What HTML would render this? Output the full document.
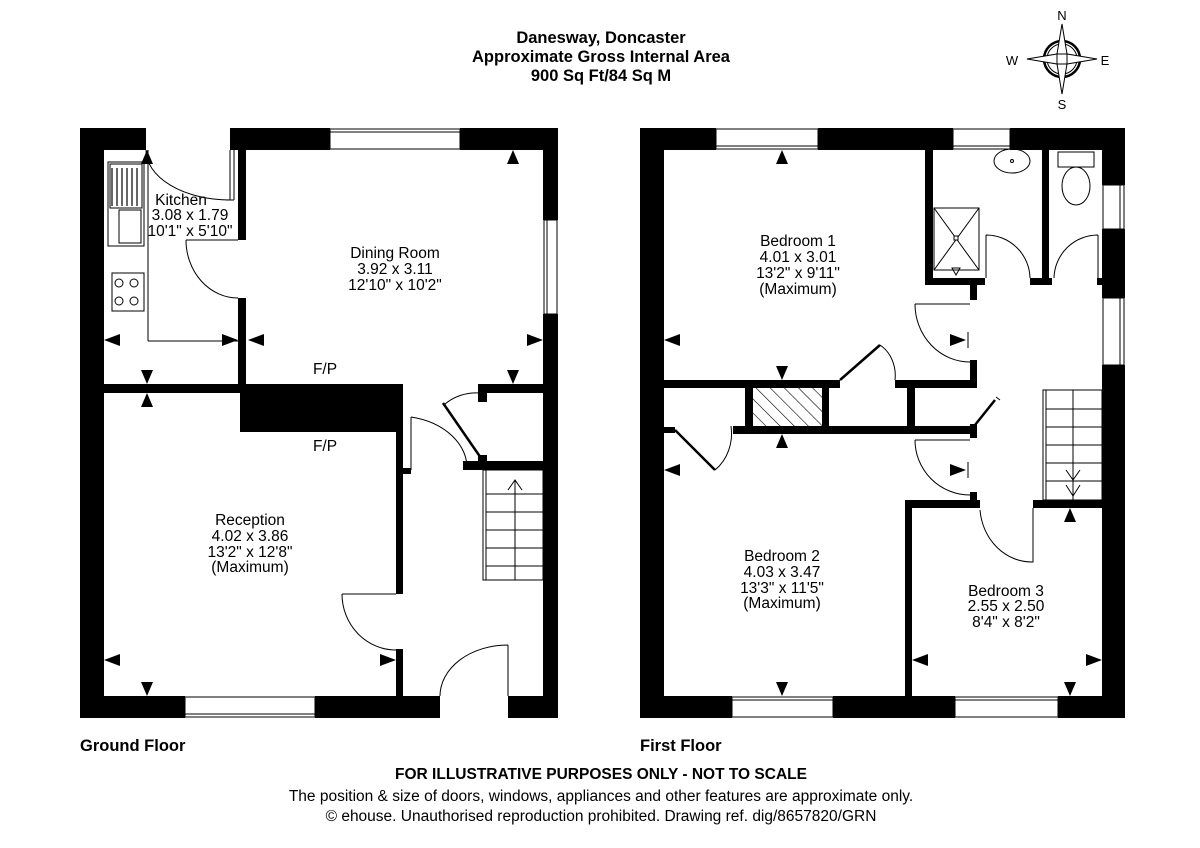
<!DOCTYPE html>
<html><head><meta charset="utf-8"><style>
html,body{margin:0;padding:0;background:#fff;}
svg{display:block;font-family:"Liberation Sans",Arial,sans-serif;}
</style></head><body>
<svg width="1200" height="848" viewBox="0 0 1200 848" xmlns="http://www.w3.org/2000/svg">
<defs>
<pattern id="hat" width="10" height="10" patternUnits="userSpaceOnUse" patternTransform="rotate(-45)">
<rect width="10" height="10" fill="#fff"/><line x1="0" y1="0" x2="0" y2="10" stroke="#000" stroke-width="1.2"/></pattern>
</defs>
<!-- header -->
<g text-anchor="middle" font-weight="bold" font-size="16.5" fill="#000">
<text x="601" y="43">Danesway, Doncaster</text>
<text x="601" y="62">Approximate Gross Internal Area</text>
<text x="601" y="81">900 Sq Ft/84 Sq M</text>
</g>
<!-- compass -->
<g stroke="#000" fill="none">
<circle cx="1062" cy="59" r="18" stroke-width="2.5"/>
<circle cx="1062" cy="59" r="15" fill="#fff" stroke-width="1"/>
<polygon points="1062,24 1067,54 1057,54" fill="#fff"/>
<polygon points="1062,94 1067,64 1057,64" fill="#fff"/>
<polygon points="1027,59 1057,54 1057,64" fill="#fff"/>
<polygon points="1097,59 1067,54 1067,64" fill="#fff"/>
</g>
<g font-size="13" text-anchor="middle" fill="#000">
<text x="1062" y="20">N</text><text x="1062" y="109">S</text>
<text x="1012" y="65">W</text><text x="1105" y="65">E</text>
</g>

<!-- ============ GROUND FLOOR ============ -->
<g fill="#000">
<rect x="80" y="128" width="24" height="590"/>
<rect x="80" y="128" width="66" height="22"/>
<rect x="230" y="128" width="100" height="22"/>
<rect x="460" y="128" width="98" height="22"/>
<rect x="543" y="128" width="15" height="92"/>
<rect x="543" y="314" width="15" height="404"/>
<rect x="80" y="696" width="105" height="22"/>
<rect x="315" y="696" width="125" height="22"/>
<rect x="508" y="696" width="50" height="22"/>
<rect x="238" y="150" width="8" height="90"/>
<rect x="238" y="298" width="8" height="95"/>
<rect x="104" y="384" width="140" height="9"/>
<rect x="240" y="384" width="163" height="48"/>
<rect x="396" y="430" width="7" height="164"/>
<rect x="403" y="468" width="8" height="6"/>
<rect x="396" y="649" width="7" height="47"/>
<rect x="478" y="384" width="65" height="9"/>
<rect x="478" y="384" width="9" height="18"/>
<rect x="463" y="461" width="80" height="9"/>
<rect x="478" y="455" width="9" height="15"/>
</g>
<g stroke="#000" fill="none" stroke-width="1">
<line x1="230" y1="150" x2="230" y2="200"/>
<line x1="234" y1="150" x2="234" y2="200"/>
<line x1="226" y1="200" x2="234" y2="200"/>
<path d="M146 150 A84 50 0 0 0 230 200"/>
<path d="M186 240 L238 240 M186 240 A52 58 0 0 0 238 298"/>
<rect x="330" y="129" width="130" height="20"/><line x1="330" y1="132" x2="460" y2="132"/>
<rect x="544" y="220" width="13" height="94"/><line x1="547" y1="220" x2="547" y2="314"/>
<rect x="185" y="697" width="130" height="20"/><line x1="185" y1="714" x2="315" y2="714"/>
<line x1="148" y1="150" x2="148" y2="341"/><line x1="148" y1="341" x2="238" y2="341"/>
<rect x="108" y="162" width="36" height="84"/>
<rect x="110" y="164" width="32" height="44"/>
<rect x="119" y="210" width="22" height="33"/>
<rect x="112" y="273" width="32" height="38"/>
<circle cx="119" cy="283" r="4"/><circle cx="134" cy="283" r="4"/>
<circle cx="119" cy="301" r="4"/><circle cx="134" cy="301" r="4"/>
<path d="M342 594 L396 594 M342 594 A54 56 0 0 0 396 650"/>
<path d="M411 417 L411 470 M411 417 A70 52 0 0 1 467 470"/>
<path d="M444 405 A45 40 0 0 1 480 393"/>
<path d="M508 645 L508 696 M508 645 A68 51 0 0 0 440 696"/>
<rect x="483" y="470" width="60" height="110"/>
<line x1="486" y1="470" x2="486" y2="580"/>
<line x1="515" y1="480" x2="515" y2="580"/>
<line x1="486" y1="494" x2="543" y2="494"/><line x1="486" y1="512" x2="543" y2="512"/>
<line x1="486" y1="530" x2="543" y2="530"/><line x1="486" y1="548" x2="543" y2="548"/>
<line x1="486" y1="566" x2="543" y2="566"/>
<path d="M508 490 L515 480 L522 490"/>
</g>
<line x1="443" y1="403" x2="483" y2="461" stroke="#000" stroke-width="2.5"/>
<g stroke="#000" stroke-width="1.2">
<line x1="112" y1="168" x2="112" y2="206"/><line x1="117" y1="168" x2="117" y2="206"/><line x1="122" y1="168" x2="122" y2="206"/>
<line x1="127" y1="168" x2="127" y2="206"/><line x1="132" y1="168" x2="132" y2="206"/><line x1="137" y1="168" x2="137" y2="206"/>
</g>
<g fill="#000">
<polygon points="104,340 120,334 120,346"/>
<polygon points="238,340 222,334 222,346"/>
<polygon points="248,340 264,334 264,346"/>
<polygon points="543,340 527,334 527,346"/>
<polygon points="147,150 141,164 153,164"/>
<polygon points="513,150 507,164 519,164"/>
<polygon points="147,384 141,370 153,370"/>
<polygon points="513,384 507,370 519,370"/>
<polygon points="147,393 141,407 153,407"/>
<polygon points="104,660 120,654 120,666"/>
<polygon points="396,660 380,654 380,666"/>
<polygon points="147,696 141,682 153,682"/>
</g>
<g font-size="15.5" text-anchor="middle" fill="#000">
<text x="181" y="205">Kitchen</text>
<text x="190" y="220">3.08 x 1.79</text>
<text x="190" y="236">10'1" x 5'10"</text>
<text x="395" y="258">Dining Room</text>
<text x="395" y="274">3.92 x 3.11</text>
<text x="395" y="290">12'10" x 10'2"</text>
<text x="325" y="374">F/P</text>
<text x="325" y="451">F/P</text>
<text x="250" y="525">Reception</text>
<text x="250" y="541">4.02 x 3.86</text>
<text x="250" y="557">13'2" x 12'8"</text>
<text x="250" y="572">(Maximum)</text>
</g>

<!-- ============ FIRST FLOOR ============ -->
<g fill="#000">
<rect x="640" y="128" width="24" height="590"/>
<rect x="640" y="128" width="76" height="22"/>
<rect x="818" y="128" width="135" height="22"/>
<rect x="1010" y="128" width="115" height="22"/>
<rect x="1102" y="128" width="23" height="57"/>
<rect x="1102" y="229" width="23" height="69"/>
<rect x="1102" y="365" width="23" height="353"/>
<rect x="640" y="696" width="92" height="22"/>
<rect x="833" y="696" width="122" height="22"/>
<rect x="1058" y="696" width="67" height="22"/>
<rect x="925" y="150" width="8" height="135"/>
<rect x="925" y="278" width="60" height="7"/>
<rect x="1030" y="278" width="22" height="7"/>
<rect x="1042" y="150" width="7" height="135"/>
<rect x="1097" y="278" width="5" height="7"/>
<rect x="970" y="283" width="7" height="17"/>
<rect x="970" y="360" width="7" height="28"/>
<rect x="664" y="380" width="176" height="8"/>
<rect x="895" y="380" width="82" height="8"/>
<rect x="664" y="427" width="11" height="6"/>
<rect x="733" y="426" width="244" height="8"/>
<rect x="745" y="380" width="8" height="54"/>
<rect x="822" y="380" width="7" height="54"/>
<rect x="907" y="380" width="8" height="54"/>
<rect x="970" y="424" width="7" height="14"/>
<rect x="970" y="492" width="7" height="16"/>
<rect x="905" y="500" width="75" height="8"/>
<rect x="1033" y="500" width="69" height="8"/>
<rect x="905" y="500" width="7" height="196"/>
</g>
<rect x="753" y="388" width="69" height="38" fill="url(#hat)"/>
<g stroke="#000" fill="none" stroke-width="1">
<rect x="716" y="129" width="102" height="20"/><line x1="716" y1="146" x2="818" y2="146"/>
<rect x="953" y="129" width="57" height="20"/><line x1="953" y1="146" x2="1010" y2="146"/>
<rect x="1103" y="185" width="21" height="44"/><line x1="1120" y1="185" x2="1120" y2="229"/>
<rect x="1103" y="298" width="21" height="67"/><line x1="1120" y1="298" x2="1120" y2="365"/>
<rect x="732" y="697" width="101" height="20"/><line x1="732" y1="700" x2="833" y2="700"/>
<rect x="955" y="697" width="103" height="20"/><line x1="955" y1="700" x2="1058" y2="700"/>
<rect x="934" y="208" width="45" height="62"/>
<line x1="934" y1="208" x2="979" y2="270"/><line x1="979" y1="208" x2="934" y2="270"/>
<rect x="954" y="236" width="4" height="4" fill="#fff"/>
<polygon points="952,268 960,268 956,275"/>
<ellipse cx="1012" cy="161" rx="18" ry="12"/>
<circle cx="1012" cy="161" r="1.5"/>
<rect x="1058" y="152" width="36" height="15"/>
<ellipse cx="1076" cy="186" rx="14" ry="19"/>
<path d="M986 235 L986 278 M986 235 A44 44 0 0 1 1030 278"/>
<path d="M1098 235 L1098 278 M1098 235 A44 44 0 0 0 1054 278"/>
<path d="M915 304 L970 304 M915 304 A55 58 0 0 0 970 362"/>
<path d="M880 345 A30 35 0 0 1 895 380"/>
<path d="M715 470 A40 45 0 0 0 731 426"/>
<path d="M996 397 L1000 400"/>
<path d="M915 440 L970 440 M915 440 A55 55 0 0 0 970 495"/>
<path d="M980 510 A52 57 0 0 0 1033 562 L1033 508"/>
<rect x="1043" y="390" width="59" height="110"/>
<line x1="1046" y1="390" x2="1046" y2="500"/>
<line x1="1073" y1="390" x2="1073" y2="500"/>
<line x1="1046" y1="409" x2="1102" y2="409"/><line x1="1046" y1="427" x2="1102" y2="427"/>
<line x1="1046" y1="445" x2="1102" y2="445"/><line x1="1046" y1="463" x2="1102" y2="463"/>
<line x1="1046" y1="481" x2="1102" y2="481"/>
<path d="M1066 470 L1073 480 L1080 470 M1066 485 L1073 496 L1080 485"/>
<line x1="968" y1="332" x2="968" y2="348"/>
<line x1="968" y1="462" x2="968" y2="478"/>
</g>
<g stroke="#000" stroke-width="2.5">
<line x1="840" y1="380" x2="880" y2="345"/>
<line x1="675" y1="430" x2="715" y2="470"/>
<line x1="975" y1="425" x2="995" y2="400"/>
</g>
<g fill="#000">
<polygon points="782,150 776,164 788,164"/>
<polygon points="664,340 680,334 680,346"/>
<polygon points="782,380 776,366 788,366"/>
<polygon points="782,434 776,448 788,448"/>
<polygon points="664,470 680,464 680,476"/>
<polygon points="782,696 776,682 788,682"/>
<polygon points="966,340 950,334 950,346"/>
<polygon points="966,470 950,464 950,476"/>
<polygon points="1070,508 1064,522 1076,522"/>
<polygon points="912,660 928,654 928,666"/>
<polygon points="1102,660 1086,654 1086,666"/>
<polygon points="1070,696 1064,682 1076,682"/>
</g>
<g font-size="15.5" text-anchor="middle" fill="#000">
<text x="798" y="246">Bedroom 1</text>
<text x="798" y="262">4.01 x 3.01</text>
<text x="798" y="278">13'2" x 9'11"</text>
<text x="798" y="294">(Maximum)</text>
<text x="782" y="561">Bedroom 2</text>
<text x="782" y="577">4.03 x 3.47</text>
<text x="782" y="593">13'3" x 11'5"</text>
<text x="782" y="608">(Maximum)</text>
<text x="1006" y="596">Bedroom 3</text>
<text x="1006" y="611">2.55 x 2.50</text>
<text x="1006" y="627">8'4" x 8'2"</text>
</g>

<g font-size="16.5" font-weight="bold" fill="#000">
<text x="80" y="751">Ground Floor</text>
<text x="640" y="751">First Floor</text>
</g>
<g text-anchor="middle" fill="#000" font-size="15.5">
<text x="601" y="779" font-weight="bold">FOR ILLUSTRATIVE PURPOSES ONLY - NOT TO SCALE</text>
<text x="601" y="801">The position &amp; size of doors, windows, appliances and other features are approximate only.</text>
<text x="601" y="821">© ehouse. Unauthorised reproduction prohibited. Drawing ref. dig/8657820/GRN</text>
</g>
</svg>
</body></html>
